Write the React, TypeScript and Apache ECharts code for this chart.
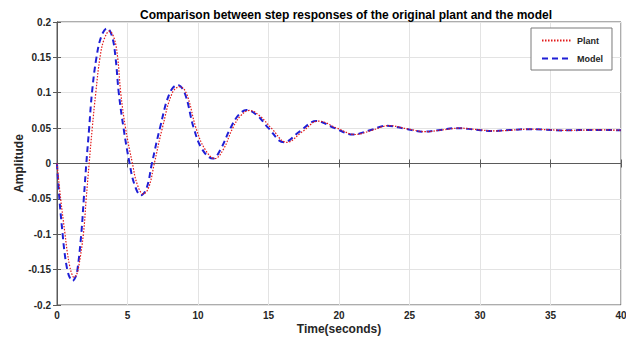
import React, { useEffect, useRef } from "react";
import * as echarts from "echarts";

const titleText = "Comparison between step responses of the original plant and the model";
const xTicks = [0, 5, 10, 15, 20, 25, 30, 35, 40];
const yTicks = [-0.2, -0.15, -0.1, -0.05, 0, 0.05, 0.1, 0.15, 0.2];

const modelTime = [0, 0.17, 0.4, 0.55, 0.73, 0.9, 1.1, 1.3, 1.45, 1.72, 1.9, 2.08, 2.28, 2.48, 2.8, 3.15, 3.55, 3.9, 4.15, 4.38, 4.72, 5.15, 5.5, 5.95, 6.35, 6.73, 7.3, 8.0, 8.55, 9.05, 9.7, 10.3, 11.05, 11.6, 12.3, 12.9, 13.45, 14.2, 15.0, 16.1, 17.2, 18.4, 19.7, 21.0, 22.2, 23.4, 24.7, 26.0, 27.2, 28.4, 29.6, 30.9, 32.1, 33.3, 34.6, 35.8, 37.0, 38.2, 40];
const modelValue = [0, -0.05, -0.1, -0.128, -0.15, -0.161, -0.166, -0.161, -0.15, -0.1, -0.05, 0, 0.05, 0.1, 0.15, 0.18, 0.191, 0.18, 0.15, 0.1, 0.05, 0, -0.03, -0.045, -0.035, 0, 0.05, 0.1, 0.111, 0.1, 0.05, 0.02, 0.007, 0.02, 0.05, 0.069, 0.0755, 0.068, 0.05, 0.03, 0.045, 0.06, 0.05, 0.041, 0.047, 0.0535, 0.049, 0.045, 0.0475, 0.05, 0.048, 0.046, 0.0472, 0.0485, 0.0478, 0.0468, 0.0472, 0.0475, 0.047];

const plantTime = [0, 0.26, 0.57, 0.72, 0.9, 1.05, 1.2, 1.38, 1.52, 1.87, 2.07, 2.28, 2.5, 2.75, 3.05, 3.35, 3.72, 4.05, 4.3, 4.52, 4.86, 5.35, 5.7, 6.12, 6.5, 6.9, 7.47, 8.18, 8.72, 9.2, 9.86, 10.5, 11.2, 11.8, 12.46, 13.05, 13.65, 14.4, 15.2, 16.3, 17.4, 18.55, 19.85, 21.15, 22.35, 23.55, 24.85, 26.15, 27.35, 28.55, 29.75, 31.05, 32.25, 33.45, 34.75, 36.0, 37.2, 38.4, 40];
const plantValue = [0, -0.05, -0.1, -0.124, -0.145, -0.156, -0.161, -0.157, -0.148, -0.1, -0.05, 0, 0.05, 0.1, 0.15, 0.176, 0.187, 0.177, 0.15, 0.1, 0.05, 0, -0.03, -0.043, -0.034, 0, 0.05, 0.1, 0.1085, 0.098, 0.05, 0.02, 0.007, 0.02, 0.05, 0.068, 0.075, 0.067, 0.05, 0.03, 0.045, 0.06, 0.05, 0.041, 0.047, 0.0535, 0.049, 0.045, 0.0475, 0.05, 0.048, 0.046, 0.0472, 0.0485, 0.0478, 0.0468, 0.0472, 0.0475, 0.047];

const pairs = (t: number[], v: number[]) => t.map((x, i) => [x, v[i]]);

const FONT = "'Liberation Sans', Arial, sans-serif";
const TXT = "#262626";

export default function App() {
  const ref = useRef<HTMLDivElement>(null);
  useEffect(() => {
    if (!ref.current) return;
    const chart = echarts.init(ref.current, null, { renderer: "svg" });
    const axisCommon = {
      min: xTicks[0],
      max: xTicks[xTicks.length - 1],
      interval: 5,
    };
    chart.setOption({
      animation: false,
      backgroundColor: "#ffffff",
      textStyle: { fontFamily: FONT },
      title: {
        text: titleText,
        left: 341,
        textAlign: "center",
        top: 4,
        textStyle: { fontFamily: FONT, fontSize: 12, fontWeight: "bold", color: "#000" },
      },
      grid: {
        left: 57,
        right: 13,
        top: 22,
        bottom: 32,
        outerBoundsMode: "none",
        containLabel: false,
        show: true,
        borderColor: "#5a5a5a",
        borderWidth: 1,
        backgroundColor: "#fff",
      },
      legend: {
        left: 531,
        top: 28,
        orient: "vertical",
        data: ["Plant", "Model"],
        itemWidth: 30,
        itemHeight: 10,
        itemGap: 9,
        padding: [8, 9, 7, 10],
        borderColor: "#7a7a7a",
        borderWidth: 1,
        backgroundColor: "#fff",
        itemStyle: { opacity: 0 },
        textStyle: { fontFamily: FONT, fontSize: 9, fontWeight: "bold", color: TXT },
      },
      xAxis: [
        {
          type: "value",
          ...axisCommon,
          name: "Time(seconds)",
          nameLocation: "middle",
          nameGap: 18,
          nameMoveOverlap: false,
          nameTextStyle: { fontFamily: FONT, fontSize: 12, fontWeight: "bold", color: TXT },
          axisLine: { show: true, lineStyle: { color: "#5a5a5a" } },
          axisTick: { show: true, inside: true, length: 4, lineStyle: { color: "#5a5a5a" } },
          axisLabel: { fontFamily: FONT, fontSize: 10, fontWeight: "bold", color: TXT, margin: 5 },
          splitLine: { show: true, lineStyle: { color: "#e3e3e3" } },
        },
        {
          type: "value",
          position: "top",
          ...axisCommon,
          axisLine: { show: true, lineStyle: { color: "#5a5a5a" } },
          axisTick: { show: true, inside: true, length: 4, lineStyle: { color: "#5a5a5a" } },
          axisLabel: { show: false },
          splitLine: { show: false },
        },
      ],
      yAxis: [
        {
          type: "value",
          min: yTicks[0],
          max: yTicks[yTicks.length - 1],
          interval: 0.05,
          name: "Amplitude",
          nameLocation: "middle",
          nameGap: 32,
          nameMoveOverlap: false,
          nameTextStyle: { fontFamily: FONT, fontSize: 12, fontWeight: "bold", color: TXT },
          axisLine: { show: true, lineStyle: { color: "#5a5a5a" } },
          axisTick: { show: true, inside: true, length: 4, lineStyle: { color: "#5a5a5a" } },
          axisLabel: {
            fontFamily: FONT,
            fontSize: 10,
            fontWeight: "bold",
            color: TXT,
            margin: 6,
            formatter: (v: number) => String(Math.round(v * 100) / 100),
          },
          splitLine: { show: true, lineStyle: { color: "#e3e3e3" } },
        },
        {
          type: "value",
          position: "right",
          min: yTicks[0],
          max: yTicks[yTicks.length - 1],
          interval: 0.05,
          axisLine: { show: true, lineStyle: { color: "#5a5a5a" } },
          axisTick: { show: true, inside: true, length: 4, lineStyle: { color: "#5a5a5a" } },
          axisLabel: { show: false },
          splitLine: { show: false },
        },
      ],
      series: [
        {
          name: "Model",
          type: "line",
          data: pairs(modelTime, modelValue),
          smooth: 0.4,
          showSymbol: false,
          symbol: "none",
          z: 2,
          lineStyle: { color: "#1f1fd6", width: 2, type: [6, 4] },
          itemStyle: { color: "#1f1fd6" },
        },
        {
          name: "Plant",
          type: "line",
          data: pairs(plantTime, plantValue),
          smooth: 0.4,
          showSymbol: false,
          symbol: "none",
          z: 3,
          lineStyle: { color: "#e21a1a", width: 1.2, type: [1.5, 1.5] },
          itemStyle: { color: "#e21a1a" },
        },
      ],
    });
    return () => chart.dispose();
  }, []);
  return <div ref={ref} style={{ width: 634, height: 337, marginLeft: -8, marginTop: -8 }} />;
}
